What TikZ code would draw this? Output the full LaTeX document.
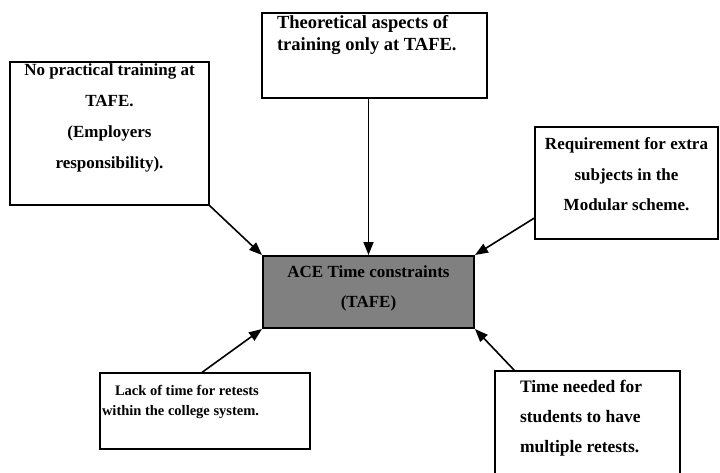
\documentclass[tikz,border=0pt]{standalone}
\usepackage{fontspec}
\setmainfont{Liberation Serif}
\usetikzlibrary{arrows.meta}
% box text: width, height, top gap, contents
\newcommand{\cardtext}[4]{\parbox[c][#2][t]{#1}{\vspace*{#3}#4}}
\begin{document}
\begin{tikzpicture}[x=1pt,y=-1pt,line width=1.2pt,
  card/.style={draw,inner sep=0pt,font=\bfseries},
  core/.style={draw,line width=2pt,fill=black!50,inner sep=0pt,font=\bfseries},
  feed/.style={-{Triangle[length=13pt,width=10pt]},line width=1.6pt}]
\useasboundingbox (0,0) rectangle (720,473);
\node[card] (practical) at (109.5,133.5) {\cardtext{199pt}{143pt}{2pt}{\centering\fontsize{17}{31}\selectfont
  No practical training at\\TAFE.\\(Employers\\responsibility).}};
\node[card] (theory) at (374.5,55.5) {\cardtext{225pt}{85pt}{2pt}{\raggedright\leftskip=15pt\fontsize{18.5}{22}\selectfont
  Theoretical aspects of\\training only at TAFE.}};
\node[card] (extra) at (626.5,183) {\cardtext{183pt}{112pt}{11pt}{\centering\fontsize{17}{30.5}\selectfont
  Requirement for extra\\subjects in the\\Modular scheme.}};
\node[core] (core) at (368.5,292) {\cardtext{211pt}{72pt}{10pt}{\centering\fontsize{17}{30}\selectfont
  ACE Time constraints\\(TAFE)}};
\node[card] (lack) at (205,411) {\cardtext{210pt}{76pt}{12pt}{\raggedright\leftskip=2pt\fontsize{14.5}{20}\selectfont
  \hspace*{13pt}Lack of time for retests\\within the college system.}};
\node[card] (retest) at (587.5,427) {\cardtext{185pt}{112pt}{9pt}{\raggedright\leftskip=25pt\fontsize{17.5}{30}\selectfont
  Time needed for\\students to have\\multiple retests.}};
\draw[feed] (practical.south east) -- (core.north west);
\draw[feed] (core.north |- theory.south) -- (core.north);
\draw[feed] ([yshift=-35pt]extra.west) -- (core.north east);
\draw[feed] ([xshift=-3pt]lack.north) -- (core.south west);
\draw[feed] ([xshift=20pt]retest.north west) -- (core.south east);
\end{tikzpicture}
\end{document}
